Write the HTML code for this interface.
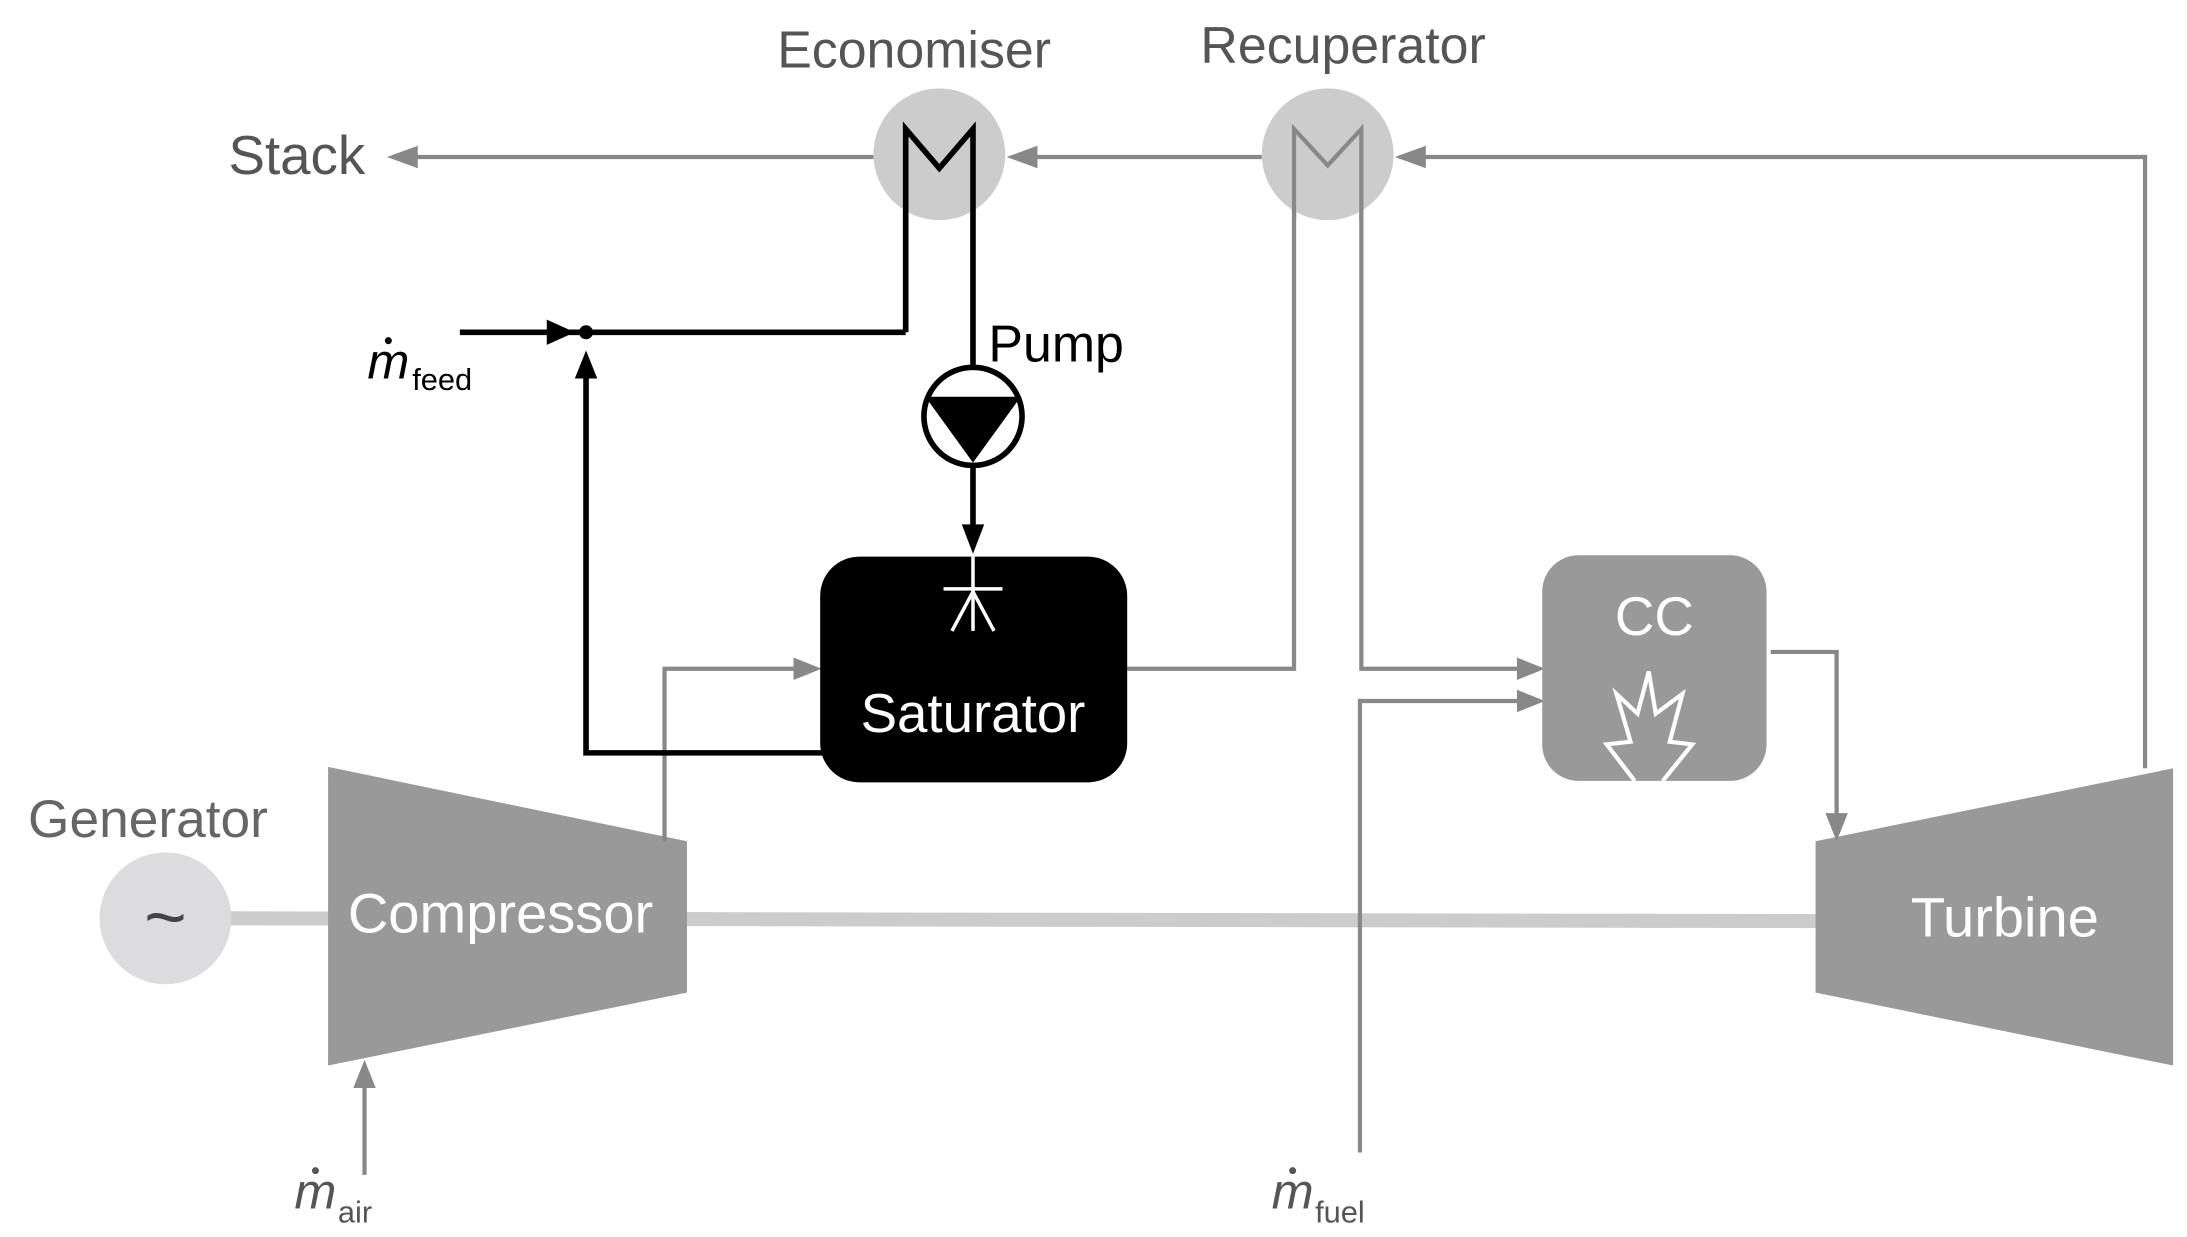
<!DOCTYPE html>
<html><head><meta charset="utf-8"><style>
html,body{margin:0;padding:0;background:#fff;}
svg{display:block;}
text{font-family:"Liberation Sans",sans-serif;}
</style></head><body>
<svg width="2187" height="1237" viewBox="0 0 2187 1237" xmlns="http://www.w3.org/2000/svg">
<g transform="scale(1.402)">
<!-- shaft -->
<line x1="160" y1="655" x2="1300" y2="657" stroke="#cccccc" stroke-width="10"/>
<!-- generator -->
<circle cx="118" cy="655" r="47" fill="#dcdcde"/>
<text x="118" y="672" font-size="52" fill="#444" text-anchor="middle">~</text>
<text x="20" y="597" font-size="38" fill="#666">Generator</text>
<!-- compressor -->
<polygon points="234,547 490,600 490,708 234,760" fill="#999"/>
<text x="357" y="665" font-size="40" fill="#fff" text-anchor="middle">Compressor</text>
<!-- turbine -->
<polygon points="1295,600 1550,548 1550,760 1295,708" fill="#999"/>
<text x="1430" y="668" font-size="40" fill="#fff" text-anchor="middle">Turbine</text>
<!-- gray lines -->
<g stroke="#888" stroke-width="3" fill="none">
<polyline points="1530,548 1530,112 998,112"/>
<line x1="900" y1="112" x2="722" y2="112"/>
<line x1="623" y1="112" x2="282" y2="112"/>
<polyline points="474,600 474,477 570,477"/>
<line x1="260" y1="838" x2="260" y2="770"/>
<polyline points="923,92 923,477 804,477"/>
<polyline points="971,92 971,477 1088,477"/>
<polyline points="970,822 970,500 1088,500"/>
<polyline points="1263,465 1310,465 1310,585"/>
</g>
<g fill="#888">
<polygon points="276,112 298,104 298,120"/>
<polygon points="718,112 740,104 740,120"/>
<polygon points="995,112 1017,104 1017,120"/>
<polygon points="586,477 566,469 566,485"/>
<polygon points="1102,477 1082,469 1082,485"/>
<polygon points="1102,500 1082,492 1082,508"/>
<polygon points="1310,600 1302,580 1318,580"/>
<polygon points="260,756 252,776 268,776"/>
</g>
<!-- heat exchanger circles -->
<circle cx="670" cy="110" r="47" fill="#cccccc"/>
<circle cx="947" cy="110" r="47" fill="#cccccc"/>
<polyline points="923,157 923,92 947,118 971,92 971,157" stroke="#888" stroke-width="3" fill="none"/>
<text x="652" y="48" font-size="37" fill="#555" text-anchor="middle">Economiser</text>
<text x="958" y="45" font-size="37" fill="#555" text-anchor="middle">Recuperator</text>
<text x="163" y="124" font-size="39" fill="#555">Stack</text>
<!-- black lines -->
<g stroke="#000" stroke-width="4" fill="none">
<polyline points="646,237 646,92 670,120 694,92 694,262"/>
<line x1="328" y1="237" x2="646" y2="237"/>
<polyline points="588,537 418,537 418,266"/>
<line x1="694" y1="332" x2="694" y2="380"/>
<circle cx="694" cy="297" r="35"/>
</g>
<polygon points="410,237 390,228 390,246" fill="#000"/>
<circle cx="418" cy="237" r="5" fill="#000"/>
<polygon points="418,250 410,270 426,270" fill="#000"/>
<polygon points="660,283 728,283 694,330" fill="#000"/>
<polygon points="694,395 686,374 702,374" fill="#000"/>
<text x="705" y="258" font-size="37" fill="#000">Pump</text>
<!-- saturator -->
<rect x="585" y="397" width="219" height="161" rx="28" fill="#000"/>
<g stroke="#fff" stroke-width="2.5">
<line x1="694" y1="397" x2="694" y2="450"/>
<line x1="673" y1="420" x2="715" y2="420"/>
<line x1="694" y1="422" x2="679" y2="450"/>
<line x1="694" y1="422" x2="709" y2="450"/>
</g>
<text x="694" y="522" font-size="39" fill="#fff" text-anchor="middle">Saturator</text>
<!-- CC -->
<rect x="1100" y="396" width="160" height="161" rx="26" fill="#999"/>
<text x="1180" y="453" font-size="39" fill="#fff" text-anchor="middle">CC</text>
<polyline points="1166,557 1146,531 1163,529 1153,495 1168,509 1176,479 1181,509 1200,495 1191,529 1207,531 1186,557" fill="none" stroke="#fff" stroke-width="3"/>
<!-- m dot labels -->
<text x="262" y="270" font-size="36" font-style="italic" fill="#000">m</text>
<circle cx="277" cy="243" r="2.5" fill="#000"/>
<text x="294" y="278" font-size="22" fill="#000">feed</text>
<text x="210" y="862" font-size="36" font-style="italic" fill="#555">m</text>
<circle cx="225" cy="835" r="2.5" fill="#555"/>
<text x="241" y="872" font-size="22" fill="#555">air</text>
<text x="907" y="862" font-size="36" font-style="italic" fill="#555">m</text>
<circle cx="922" cy="835" r="2.5" fill="#555"/>
<text x="938" y="872" font-size="22" fill="#555">fuel</text>
</g>
</svg>
</body></html>
